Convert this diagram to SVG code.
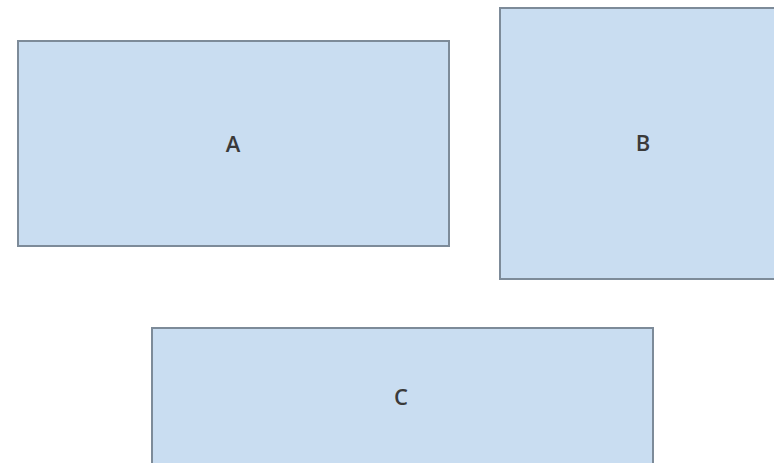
<svg xmlns="http://www.w3.org/2000/svg" width="774" height="463" viewBox="0 0 774 463">
<style>
.box{fill:#c9ddf1;stroke:#7d8b99;stroke-width:2}
.lbl{font-family:"Open Sans","Liberation Sans",sans-serif;font-size:22px;font-weight:600;fill:#3a3a3a;text-anchor:middle;dominant-baseline:central}
</style>
<rect width="774" height="463" fill="#ffffff"/>
<g id="A"><rect class="box" x="18" y="41" width="431" height="205"/><text class="lbl" x="233" y="143">A</text></g>
<g id="B"><rect class="box" x="500" y="8" width="280" height="271"/><text class="lbl" x="643" y="142">B</text></g>
<g id="C"><rect class="box" x="152" y="328" width="501" height="145"/><text class="lbl" x="401" y="396">C</text></g>
<g id="connectors"></g>
</svg>
